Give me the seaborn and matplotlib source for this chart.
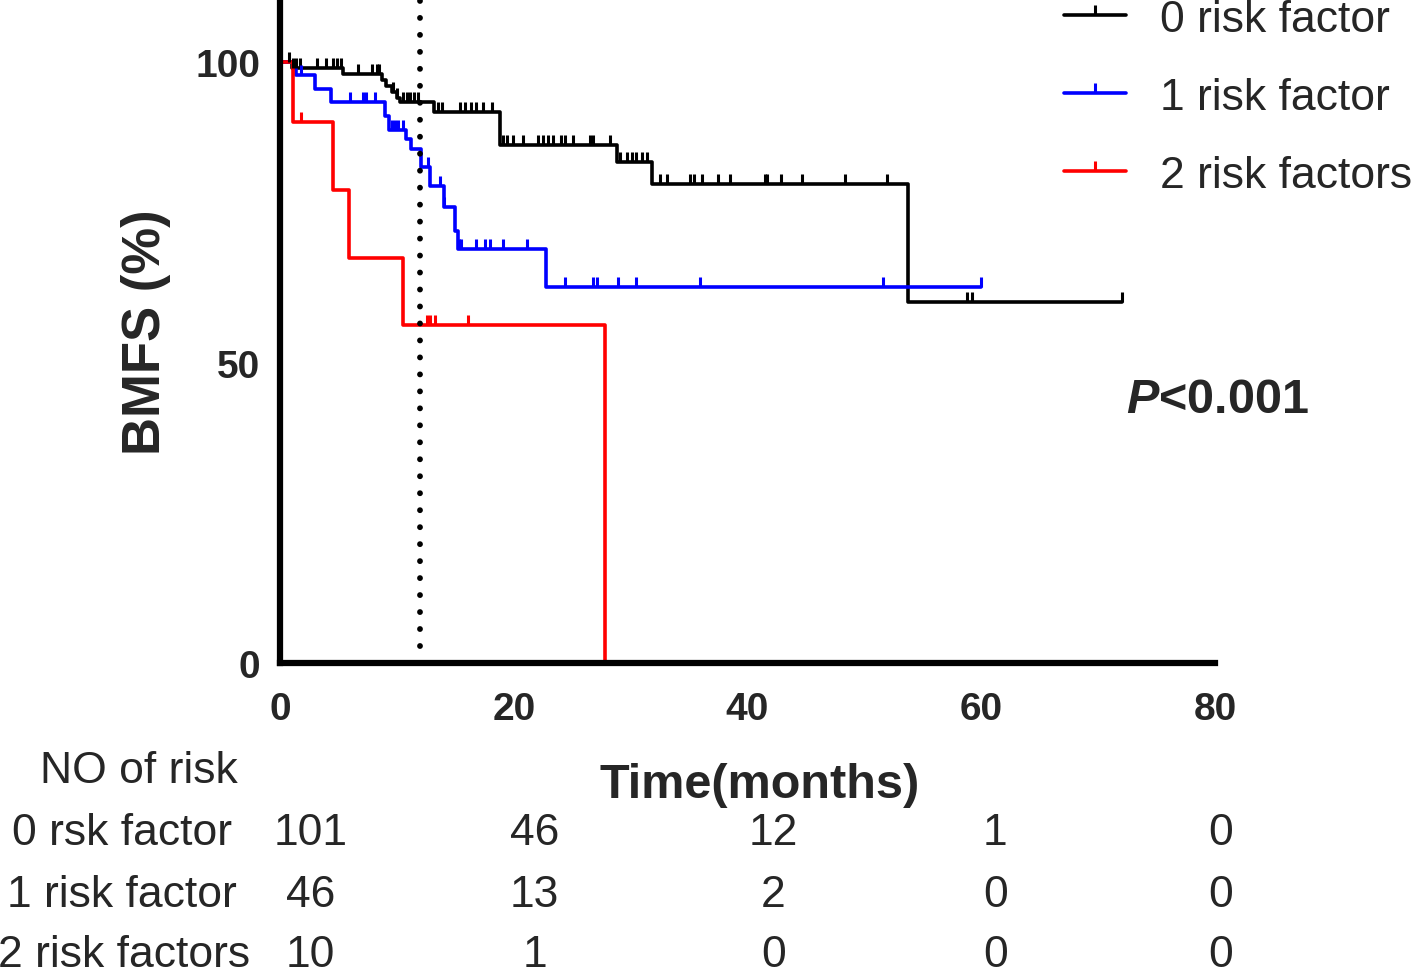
"""Kaplan-Meier BMFS curves by number of risk factors."""

import numpy as np
import matplotlib
matplotlib.use("Agg")
import matplotlib.pyplot as plt
import seaborn as sns
import pandas as pd
from matplotlib.lines import Line2D

# step points (months, BMFS %)
t0 = [0, 1.0, 5.4, 8.7, 9.1, 9.6, 10.0, 10.3, 13.2, 18.8, 28.8, 31.8, 53.7, 72.0]
s0 = [100, 99.0, 98.0, 97.0, 96.0, 95.0, 94.1, 93.3, 91.7, 86.2, 83.4, 79.7, 60.0, 60.0]
t1 = [0, 1.4, 3.0, 4.4, 9.0, 9.3, 10.8, 11.2, 12.1, 12.8, 14.0, 15.0, 15.2, 22.8, 60.0]
s1 = [100, 97.8, 95.6, 93.4, 91.0, 88.7, 87.2, 85.5, 82.5, 79.4, 75.9, 71.9, 68.9, 62.6, 62.6]
t2 = [0, 1.1, 4.5, 5.9, 10.5, 27.8]
s2 = [100, 90.0, 78.7, 67.4, 56.2, 0.0]

# censored observations (months)
c0 = [0.8, 1.1, 1.4, 1.7, 3.2, 3.9, 4.5, 4.9, 5.2, 6.7, 7.9, 8.3, 8.5, 9.7, 10.0,
      10.5, 10.9, 11.1, 11.5, 11.8, 13.5, 13.9, 15.4, 15.8, 16.3, 16.8, 17.4, 18.1,
      19.1, 19.4, 19.9, 20.8, 22.1, 22.5, 22.9, 23.4, 24.0, 24.4, 25.1, 26.5, 26.8,
      28.2, 29.1, 29.7, 30.1, 30.5, 31.0, 31.4, 32.5, 33.1, 35.1, 35.4, 36.1, 37.5,
      38.5, 41.5, 41.7, 42.9, 44.7, 48.3, 51.9, 58.8, 59.2, 72.0]
c1 = [1.8, 6.0, 7.1, 7.4, 8.1, 9.6, 9.8, 10.1, 10.5, 12.7, 13.7, 14.0, 15.3, 15.5,
      16.8, 17.5, 18.0, 19.1, 21.1, 24.4, 26.8, 27.1, 28.9, 30.5, 35.9, 51.6, 60.0]
c2 = [1.8, 12.6, 12.8, 13.3, 16.1]

groups = ["0 risk factor", "1 risk factor", "2 risk factors"]
colors = ["black", "#0000ff", "#ff0000"]

# number at risk table
risk_times = [0, 20, 40, 60, 80]
risk_labels = ["0 rsk factor", "1 risk factor", "2 risk factors"]
risk_counts = [[101, 46, 12, 1, 0],
               [46, 13, 2, 0, 0],
               [10, 1, 0, 0, 0]]

sns.set_style("white")
plt.rcParams["font.family"] = ["Liberation Sans", "DejaVu Sans"]
plt.rcParams["mathtext.fontset"] = "custom"
plt.rcParams["mathtext.it"] = "Liberation Sans:italic:bold"
plt.rcParams["mathtext.rm"] = "Liberation Sans:bold"

TICK = [(0, 0), (0, 1)]  # upward censor tick


def surv_at(ts, ss, tc):
    idx = np.searchsorted(ts, tc, side="right") - 1
    return np.asarray(ss)[idx]


df = pd.concat([
    pd.DataFrame({"group": g, "time": t, "surv": s})
    for g, t, s in zip(groups, [t0, t1, t2], [s0, s1, s2])
])

fig = plt.figure(figsize=(14.18, 9.79), dpi=100)
ax = fig.add_axes([280 / 1418, 1 - 664 / 979, 935 / 1418, 664 / 979])

sns.lineplot(data=df, x="time", y="surv", hue="group", palette=colors,
             drawstyle="steps-post", estimator=None, sort=False,
             linewidth=2.6, legend=False, ax=ax)

for ts, ss, cs, col in zip([t0, t1, t2], [s0, s1, s2], [c0, c1, c2], colors):
    ax.plot(cs, surv_at(ts, ss, cs), ls="none", marker=TICK, ms=15, mew=2.2,
            color=col, clip_on=False)

ax.axvline(12, color="black", lw=4.2, ls=(0, (0.01, 2.9)), dash_capstyle="round")

ax.set_xlim(0, 80)
ax.set_ylim(0, 110.5)
ax.set_xticks([0, 12, 20, 40, 60, 80], labels=["0", "", "20", "40", "60", "80"])
ax.set_yticks([0, 50, 100])
ax.set_xlabel("")
ax.set_ylabel("")
for s in ["top", "right"]:
    ax.spines[s].set_visible(False)
for s in ["left", "bottom"]:
    ax.spines[s].set_linewidth(4.5)
    ax.spines[s].set_color("black")
ax.tick_params(axis="both", direction="out", length=10, width=3.2, color="black")
ax.tick_params(axis="y", pad=4)
ax.tick_params(axis="x", pad=10)
for lab in ax.get_yticklabels():
    lab.set_fontsize(28)
    lab.set_fontweight("bold")
for lab in ax.get_xticklabels():
    lab.set_fontsize(28)
    lab.set_fontweight("bold")

ax.text(-0.143, 0.5, "BMFS (%)", transform=ax.transAxes, rotation=90,
        ha="center", va="center", fontsize=38, fontweight="bold")
fig.text(760 / 1418, 1 - 798 / 979, "Time(months)", ha="center", va="baseline",
         fontsize=35, fontweight="bold")
ax.text(72.4, 41.8, r"$P$<0.001", ha="left", va="baseline", fontsize=35,
        fontweight="bold")

handles = [Line2D([0], [0], color=c, lw=2.6, marker=TICK, ms=15, mew=2.2)
           for c in colors]
fig.legend(handles, groups, loc="upper left", bbox_to_anchor=(1064 / 1418, 1.0),
           frameon=False, fontsize=32, numpoints=1, handlelength=1.4,
           handletextpad=0.75, labelspacing=0.83, borderpad=0, borderaxespad=0)

# number at risk table
fig.text(238 / 1418, 1 - 783 / 979, "NO of risk", ha="right", va="baseline",
         fontsize=32)
row_base = [845, 907, 967]
label_end = [232, 237, 250]
col_x = [2.6, 21.8, 42.2, 61.2, 80.5]
for lab, counts, yb, xe in zip(risk_labels, risk_counts, row_base, label_end):
    fig.text(xe / 1418, 1 - yb / 979, lab, ha="right", va="baseline", fontsize=32)
    for tx, n in zip(col_x, counts):
        xf = (280 + tx * 935 / 80) / 1418
        fig.text(xf, 1 - yb / 979, str(n), ha="center", va="baseline", fontsize=32)

fig.savefig("out.png", dpi=100)
plt.close(fig)
